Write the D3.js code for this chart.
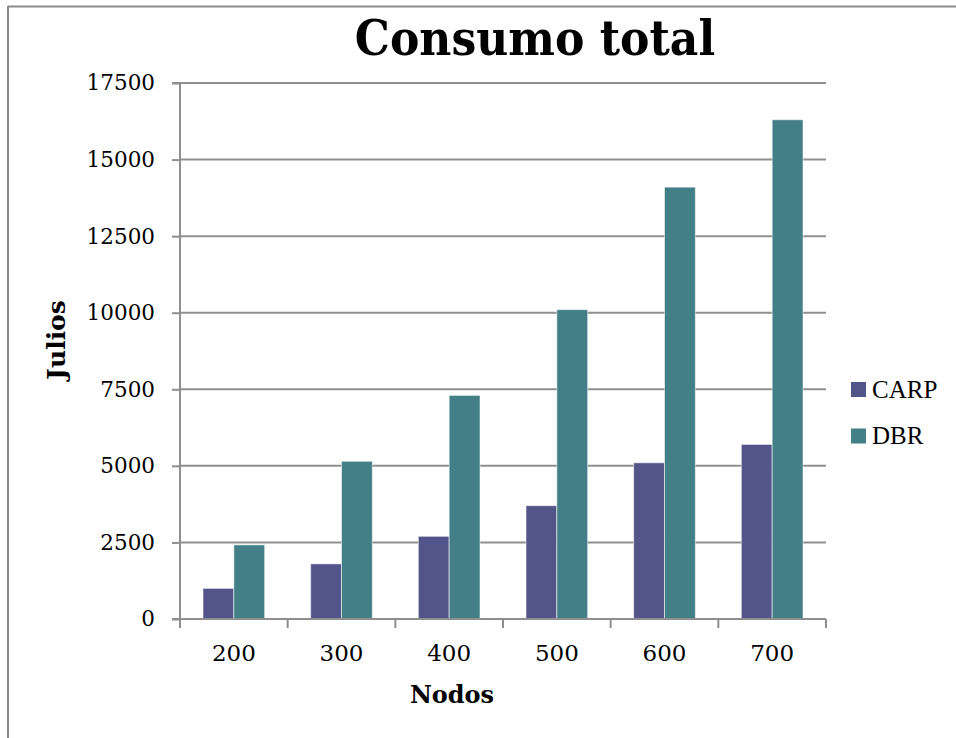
<!DOCTYPE html>
<html>
<head>
<meta charset="utf-8">
<script src="https://cdn.jsdelivr.net/npm/d3@7"></script>
<style>
  html, body { margin: 0; padding: 0; background: #fff; }
  svg { display: block; }
</style>
</head>
<body>
<svg id="chart" width="956" height="738"></svg>
<script>
const categories = ["200", "300", "400", "500", "600", "700"];
const seriesNames = ["CARP", "DBR"];
const carpValues = [1000, 1800, 2700, 3700, 5100, 5700];
const dbrValues = [2420, 5150, 7300, 10100, 14100, 16300];
const yTicks = [0, 2500, 5000, 7500, 10000, 12500, 15000, 17500];
const colors = ["#53558a", "#427f86"];
const titleText = "Consumo total";
const xTitle = "Nodos";
const yTitle = "Julios";

const svg = d3.select("#chart");
const x0 = d3.scaleBand().domain(categories).range([180, 826]).paddingInner(0).paddingOuter(0);
const x1 = d3.scaleBand().domain(seriesNames).range([0, x0.bandwidth()]).paddingInner(0).paddingOuter(0.745);
const y = d3.scaleLinear().domain([0, 17500]).range([619, 83]);

// outer frame
svg.append("line").attr("x1", 8).attr("x2", 956).attr("y1", 6.5).attr("y2", 6.5)
  .attr("stroke", "#8a8a8a").attr("stroke-width", 2);
svg.append("line").attr("x1", 8).attr("x2", 8).attr("y1", 6).attr("y2", 738)
  .attr("stroke", "#8a8a8a").attr("stroke-width", 2);

// gridlines
svg.append("g").selectAll("line").data(yTicks.filter(d => d > 0)).join("line")
  .attr("x1", 180).attr("x2", 826)
  .attr("y1", d => y(d)).attr("y2", d => y(d))
  .attr("stroke", "#8f8f8f").attr("stroke-width", 2);

// y axis
const yAxis = d3.axisLeft(y).tickValues(yTicks).tickSize(8).tickPadding(17).tickFormat(d => String(d));
const gy = svg.append("g").attr("transform", "translate(180,0)").call(yAxis);
gy.select(".domain").attr("stroke", "#8f8f8f").attr("stroke-width", 2).attr("d", "M-8,83H0V619H-8");
gy.selectAll(".tick line").attr("stroke", "#8f8f8f").attr("stroke-width", 2);
gy.selectAll(".tick text").attr("font-family", "'DejaVu Serif', serif").attr("font-size", 21.5)
  .attr("fill", "#000");

// bars
const data = categories.map((c, i) => ({ cat: c, vals: [carpValues[i], dbrValues[i]] }));
svg.append("g").selectAll("g").data(data).join("g")
  .attr("transform", d => `translate(${x0(d.cat)},0)`)
  .selectAll("rect").data(d => d.vals.map((v, j) => ({ name: seriesNames[j], v, j })))
  .join("rect")
  .attr("x", d => x1(d.name))
  .attr("width", x1.bandwidth())
  .attr("y", d => y(d.v))
  .attr("height", d => y(0) - y(d.v))
  .attr("fill", d => colors[d.j])
  .attr("stroke", "rgba(255,255,255,0.55)")
  .attr("stroke-width", 1);

// x axis
const xAxis = d3.axisBottom(x0).tickSize(0).tickPadding(26);
const gx = svg.append("g").attr("transform", "translate(0,619)").call(xAxis);
gx.select(".domain").attr("stroke", "#8f8f8f").attr("stroke-width", 2).attr("d", "M172,0H826");
gx.selectAll(".tick text").attr("font-family", "'DejaVu Serif', serif").attr("font-size", 23)
  .attr("fill", "#000");
// category boundary ticks
const bounds = categories.map(c => x0(c)).concat([x0(categories[categories.length - 1]) + x0.bandwidth()]);
svg.append("g").selectAll("line").data(bounds).join("line")
  .attr("x1", d => d).attr("x2", d => d).attr("y1", 619).attr("y2", 628)
  .attr("stroke", "#8f8f8f").attr("stroke-width", 2);

// title
svg.append("text").attr("x", 535).attr("y", 55).attr("text-anchor", "middle")
  .attr("font-family", "'DejaVu Serif Condensed', 'DejaVu Serif', serif")
  .attr("font-stretch", "condensed")
  .attr("font-weight", "bold").attr("font-size", 49).attr("fill", "#000").text(titleText);

// axis titles
svg.append("text").attr("x", 452).attr("y", 703).attr("text-anchor", "middle")
  .attr("font-family", "'DejaVu Serif', serif").attr("font-weight", "bold")
  .attr("font-size", 24).attr("fill", "#000").text(xTitle);
svg.append("text").attr("transform", "translate(65,340) rotate(-90)").attr("text-anchor", "middle")
  .attr("font-family", "'DejaVu Serif', serif").attr("font-weight", "bold")
  .attr("font-size", 25).attr("fill", "#000").text(yTitle);

// legend
const legend = svg.append("g").selectAll("g").data(seriesNames).join("g")
  .attr("transform", (d, i) => `translate(851,${382 + i * 46.5})`);
legend.append("rect").attr("width", 15).attr("height", 15).attr("fill", (d, i) => colors[i]);
legend.append("text").attr("x", 21).attr("y", 15.5)
  .attr("font-family", "'Liberation Serif', serif").attr("font-size", 25)
  .attr("fill", "#000").text(d => d);
</script>
</body>
</html>
